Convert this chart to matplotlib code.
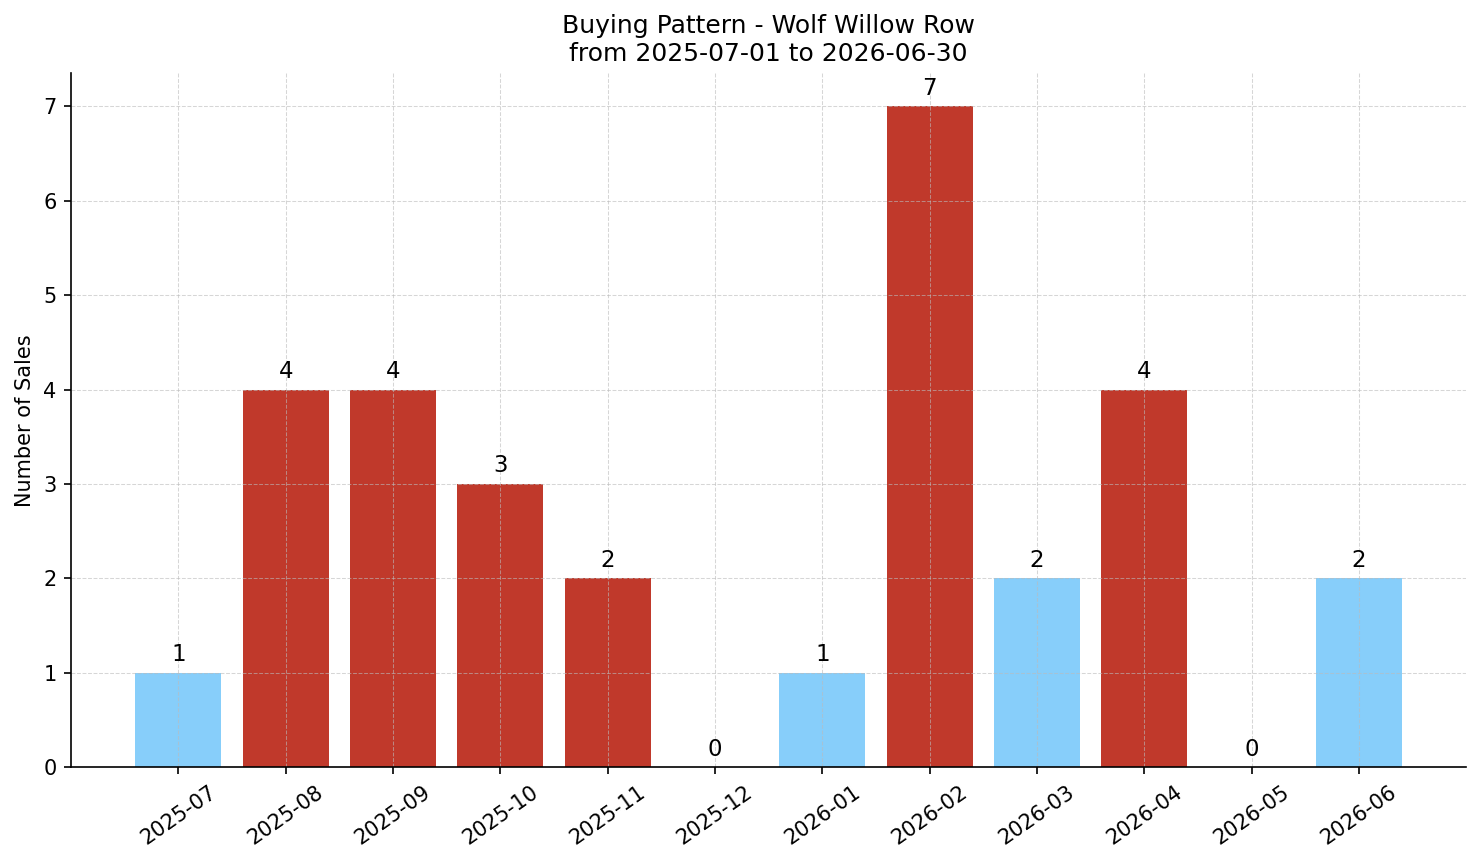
import matplotlib
matplotlib.use("Agg")
import matplotlib.pyplot as plt

months = ["2025-07", "2025-08", "2025-09", "2025-10", "2025-11", "2025-12",
          "2026-01", "2026-02", "2026-03", "2026-04", "2026-05", "2026-06"]
sales = [1, 4, 4, 3, 2, 0, 1, 7, 2, 4, 0, 2]
highlight = [False, True, True, True, True, False, False, True, False, True, False, False]

RED = "#c0392b"
BLUE = "#87cefa"

DPI = 150
fig = plt.figure(figsize=(1481 / DPI, 863 / DPI), dpi=DPI)
ax = fig.add_axes([0.048, 0.111, 0.942, 0.804])

colors = [RED if h else BLUE for h in highlight]
x = list(range(len(months)))
ax.bar(x, sales, color=colors, width=0.8, zorder=1)
for xi, v in zip(x, sales):
    ax.text(xi, v + 0.07, str(v), ha="center", va="bottom", fontsize=11)

ax.set_xticks(x)
ax.set_xticklabels(months, rotation=35, fontsize=10)
ax.tick_params(axis="y", labelsize=10)
ax.set_ylim(0, 7.35)
ax.set_xlim(-1, 12.0)
ax.set_ylabel("Number of Sales", fontsize=10)
ax.set_title("Buying Pattern - Wolf Willow Row\nfrom 2025-07-01 to 2026-06-30", fontsize=12)
ax.grid(True, linestyle="--", color="#bbbbbb", alpha=0.6, linewidth=0.5, zorder=3)
ax.spines["top"].set_visible(False)
ax.spines["right"].set_visible(False)

fig.savefig("out.png", dpi=DPI)
